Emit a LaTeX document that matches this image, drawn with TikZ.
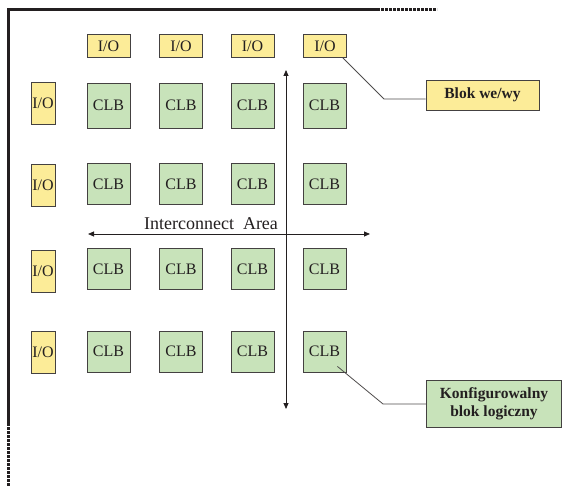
\documentclass[tikz,border=0pt]{standalone}
\usepackage{fontspec}
\setmainfont{Liberation Serif}
\usetikzlibrary{arrows.meta}

\definecolor{ink}{RGB}{35,31,32}
\definecolor{ioyellow}{RGB}{252,236,152}
\definecolor{clbgreen}{RGB}{200,227,186}

\begin{document}
\begin{tikzpicture}[
    x=1pt, y=-1pt,
    every node/.style={text=ink, inner sep=0pt},
    clb/.style={rectangle, minimum width=43pt, minimum height=41pt, draw=ink!85, line width=0.9pt, fill=clbgreen, font=\fontsize{16}{18}\selectfont},
    iotop/.style={rectangle, minimum width=43pt, minimum height=23pt, draw=ink!85, line width=0.9pt, fill=ioyellow, font=\fontsize{16}{18}\selectfont},
    ioside/.style={rectangle, minimum width=24pt, minimum height=42pt, draw=ink!85, line width=0.9pt, fill=ioyellow, font=\fontsize{16}{18}\selectfont},
    callout/.style={rectangle, draw=ink!85, line width=0.9pt, text centered, align=center, font=\fontsize{15.5}{18}\selectfont\bfseries},
    frameline/.style={ink, line width=3pt, line cap=butt},
    frameend/.style={ink, line width=3pt, dash pattern=on 2.6pt off 1.4pt},
    arrow/.style={ink, line width=0.8pt, {Triangle[length=6pt,width=5pt]}-{Triangle[length=6pt,width=5pt]}},
    leader/.style={ink!80, line width=0.8pt},
]
    \useasboundingbox (0,0) rectangle (562,486);

    % frame
    \draw[frameline] (8,423) -- (8,10) -- (377,10);
    \draw[frameend] (377,10) -- (437,10);
    \draw[frameend] (8,423) -- (8,486);

    % I/O blocks on top
    \node (io1) [iotop] at (108.5,46) {I/O};
    \node (io2) [iotop] at (181,46) {I/O};
    \node (io3) [iotop] at (252.5,46) {I/O};
    \node (io4) [iotop] at (325,46) {I/O};

    % I/O blocks on the left
    \node (ioa) [ioside] at (43,103) {I/O};
    \node (iob) [ioside] at (43,185.5) {I/O};
    \node (ioc) [ioside] at (43,271) {I/O};
    \node (iod) [ioside] at (43,352.5) {I/O};

    % CLB grid
    \node (clb11) [clb, minimum height=45pt] at (108.5,105.5) {CLB};
    \node (clb12) [clb, minimum height=45pt] at (181,105.5) {CLB};
    \node (clb13) [clb, minimum height=45pt] at (252.5,105.5) {CLB};
    \node (clb14) [clb, minimum height=45pt] at (324.5,105.5) {CLB};

    \node (clb21) [clb] at (108.5,184) {CLB};
    \node (clb22) [clb] at (181,184) {CLB};
    \node (clb23) [clb] at (252.5,184) {CLB};
    \node (clb24) [clb] at (324.5,184) {CLB};

    \node (clb31) [clb] at (108.5,269) {CLB};
    \node (clb32) [clb] at (181,269) {CLB};
    \node (clb33) [clb] at (252.5,269) {CLB};
    \node (clb34) [clb] at (324.5,269) {CLB};

    \node (clb41) [clb] at (108.5,351.5) {CLB};
    \node (clb42) [clb] at (181,351.5) {CLB};
    \node (clb43) [clb] at (252.5,351.5) {CLB};
    \node (clb44) [clb] at (324.5,351.5) {CLB};

    % interconnect arrows
    \coordinate (hleft) at (88,234);
    \coordinate (hright) at (370,234);
    \coordinate (vtop) at (286,70);
    \coordinate (vbottom) at (286,409);
    \node (area) at (211,224) {\fontsize{18}{20}\selectfont Interconnect\ \ Area};

    \draw [arrow] (hleft) -- (hright);
    \draw [arrow] (vtop) -- (vbottom);

    % callouts
    \node (blok) [callout, fill=ioyellow, minimum width=113pt, minimum height=30pt] at (482.5,95) {Blok we/wy};
    \node (konf) [callout, fill=clbgreen, minimum width=135pt, minimum height=47pt] at (494,403.5) {Konfigurowalny\\blok logiczny};

    \coordinate (bend1) at (384,99);
    \coordinate (bend2) at (383,404);

    \draw [leader] ([xshift=-4pt]io4.south east) -- (bend1) -- (bend1 -| blok.west);
    \draw [leader] ([xshift=-9pt,yshift=6pt]clb44.south east) -- (bend2) -- (bend2 -| konf.west);

\end{tikzpicture}
\end{document}
